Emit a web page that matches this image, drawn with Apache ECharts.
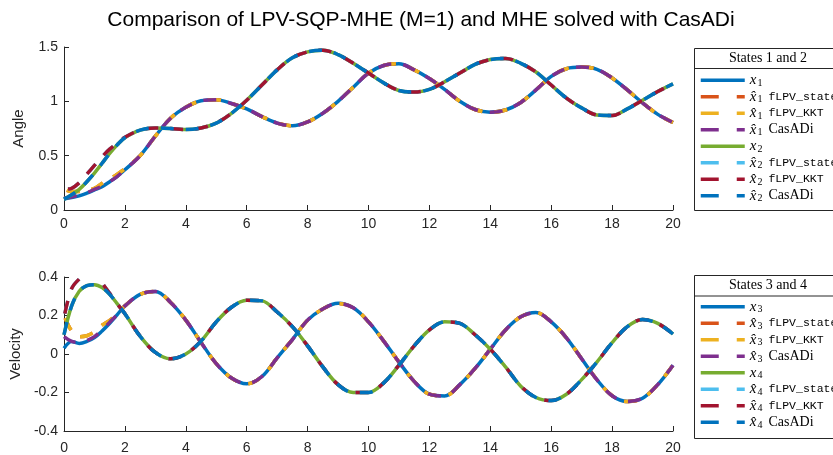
<!DOCTYPE html>
<html><head><meta charset="utf-8">
<script src="https://cdn.jsdelivr.net/npm/echarts@6/dist/echarts.min.js"></script>
<style>html,body{margin:0;padding:0;background:#fff}#c{width:833px;height:455px}</style>
</head><body><div id="c"></div><script>
// ---- data ----
const T = [0,0.25,0.5,0.75,1,1.25,1.5,1.75,2,2.5,3,3.5,4,4.5,5,5.5,6,6.5,7,7.5,8,8.5,9,9.5,10,10.5,11,11.5,12,12.5,13,13.5,14,14.5,15,15.5,16,16.5,17,17.5,18,18.5,19,19.5,20];
const xTicks = [0,2,4,6,8,10,12,14,16,18,20];
// Angle states
const x1 = [0.10,0.115,0.13,0.155,0.185,0.215,0.26,0.31,0.37,
  0.50,0.68,0.845,0.945,1.005,1.015,0.98,0.93,0.86,0.80,
  0.775,0.81,0.89,1.00,1.13,1.26,1.33,1.345,1.29,1.21,
  1.11,1.00,0.925,0.90,0.92,0.99,1.105,1.23,1.30,1.315,
  1.295,1.215,1.105,0.985,0.88,0.805];
const x2 = [0.10,0.14,0.19,0.26,0.34,0.43,0.52,0.60,0.665,
  0.735,0.755,0.75,0.74,0.755,0.80,0.89,1.01,1.15,1.29,
  1.40,1.455,1.47,1.43,1.35,1.26,1.17,1.10,1.085,1.11,
  1.18,1.26,1.34,1.385,1.395,1.35,1.27,1.15,1.03,0.94,
  0.875,0.87,0.93,1.01,1.09,1.16];
// estimates: early part differs, afterwards they lie on the true state
const xh1_kkt_head = [0.19,0.17,0.17,0.18,0.20,0.245,0.285,0.33,0.38];
const xh1_cas_head = [0.11,0.12,0.14,0.16,0.19,0.22,0.26,0.31,0.37];
const xh2_kkt_head = [0.19,0.20,0.25,0.33,0.41,0.49,0.56,0.615,0.67];
const xh2_cas_head = [0.10,0.14,0.19,0.26,0.34,0.43,0.52,0.60,0.665];
// Velocity states
const x3 = [0.03,0.065,0.055,0.065,0.085,0.12,0.16,0.205,0.25,
  0.31,0.325,0.268,0.176,0.06,-0.05,-0.125,-0.155,-0.117,-0.02,
  0.075,0.176,0.234,0.263,0.24,0.167,0.067,-0.042,-0.142,-0.209,
  -0.218,-0.159,-0.075,0.025,0.125,0.193,0.215,0.167,0.084,-0.025,
  -0.133,-0.217,-0.247,-0.23,-0.159,-0.058];
const x4 = [0.10,0.25,0.326,0.355,0.36,0.345,0.31,0.26,0.209,
  0.092,0.008,-0.025,0.0,0.067,0.167,0.243,0.279,0.276,0.218,
  0.142,0.042,-0.067,-0.159,-0.2,-0.2,-0.15,-0.058,0.042,0.125,
  0.167,0.159,0.10,0.025,-0.067,-0.167,-0.226,-0.242,-0.209,-0.133,
  -0.042,0.059,0.142,0.179,0.159,0.104];
const xh3_kkt_head = [0.20,0.12,0.09,0.095,0.115,0.15,0.175,0.21,0.25];
const xh3_cas_head = [0.09,0.065,0.06,0.07,0.09,0.125,0.165,0.205,0.25];
const xh4_kkt_head = [0.19,0.34,0.39,0.425,0.44,0.37,0.315,0.26,0.209];
const xh4_cas_head = [0.10,0.25,0.326,0.355,0.36,0.345,0.31,0.26,0.209];

const names1 = ['x1','x̂1 fLPV_state','x̂1 fLPV_KKT','x̂1 CasADi','x2','x̂2 fLPV_state','x̂2 fLPV_KKT','x̂2 CasADi'];
const names2 = ['x3','x̂3 fLPV_state','x̂3 fLPV_KKT','x̂3 CasADi','x4','x̂4 fLPV_state','x̂4 fLPV_KKT','x̂4 CasADi'];
const legendTitles = ['States 1 and 2','States 3 and 4'];
const yNames = ['Angle','Velocity'];
const titleText = 'Comparison of LPV-SQP-MHE (M=1) and MHE solved with CasADi';

// ---- build ----
const withTail = (head, truth) => head.concat(truth.slice(head.length));
const pairs = v => T.map((t,i)=>[t,v[i]]);
const colors = ['#0072BD','#D95319','#EDB120','#7E2F8E','#77AC30','#4DBEEE','#A2142F','#0072BD'];
const dashes = [null, -3, -3, 0, null, -4, -4, 0];

function groupData(a, b, ah_k, ah_c, bh_k, bh_c){
  const ak = withTail(ah_k, a), ac = withTail(ah_c, a);
  const bk = withTail(bh_k, b), bc = withTail(bh_c, b);
  return [a, ak, ak, ac, b, bk, bk, bc];
}
const g1 = groupData(x1, x2, xh1_kkt_head, xh1_cas_head, xh2_kkt_head, xh2_cas_head);
const g2 = groupData(x3, x4, xh3_kkt_head, xh3_cas_head, xh4_kkt_head, xh4_cas_head);

const LW = 3.5;
const series = [];
[[g1,names1],[g2,names2]].forEach(([g,names],gi)=>{
  g.forEach((v,i)=>{
    const dashed = dashes[i] !== null;
    series.push({
      name: names[i], type:'line', xAxisIndex: gi, yAxisIndex: gi,
      data: pairs(v), smooth: 0.35, symbol:'none', animation:false,
      lineStyle: {color: colors[i], width: LW, type: dashed ? [13,12] : 'solid', dashOffset: dashed ? dashes[i] : 0, cap:'butt'},
      itemStyle: {color: colors[i]}
    });
  });
});

function fmt(name){
  const m = name.match(/^x(\u0302?)(\d)(?: (.*))?$/);
  let s = '{m|' + (m[1] ? 'x\u0302' : 'x') + '}{s|' + m[2] + '}';
  if (m[3]) s += (m[3] === 'CasADi') ? '{rm|CasADi}' : '{tt|' + m[3] + '}';
  return s;
}
const rich = {
  m: {fontFamily:'Liberation Serif', fontStyle:'italic', fontSize:15, lineHeight:16, color:'#000'},
  s: {fontFamily:'Liberation Serif', fontSize:10, lineHeight:16, verticalAlign:'bottom', color:'#000', padding:[0,0,0,1]},
  tt: {fontFamily:'Liberation Mono', fontSize:11.5, lineHeight:16, color:'#000', padding:[0,0,0,6]},
  rm: {fontFamily:'Liberation Serif', fontSize:14, lineHeight:16, color:'#000', padding:[0,0,0,6]}
};
function legendData(names){
  return names.map((n,i)=>({name:n, itemStyle:{opacity:0, borderWidth:0},
    lineStyle: dashes[i]!==null ? {type:[18,18], width:3.5, dashOffset:0} : {type:'solid', width:3.5}}));
}
const legTops = [72.7, 299.3];
const legend = [names1, names2].map((names,gi)=>({
  orient:'vertical', left: 699, top: legTops[gi], padding:0, itemGap:1,
  itemWidth: 44, itemHeight: 10, data: legendData(names), formatter: fmt,
  selectedMode:false, z: 10,
  textStyle: {rich: rich, color:'#000'}
}));

const boxes = [{top:48.5, bottom:210.5, sep:68.5, ty:58.5},{top:275.5, bottom:438.5, sep:296, ty:285.5}];
const graphic = [];
boxes.forEach((b,gi)=>{
  graphic.push({type:'rect', z: 1, shape:{x:694.5, y:b.top, width:200, height:b.bottom-b.top}, style:{fill:'#fff', stroke:'#262626', lineWidth:1}});
  graphic.push({type:'line', z: 2, shape:{x1:694.5, y1:b.sep, x2:900, y2:b.sep}, style:{stroke:'#262626', lineWidth:1}});
  graphic.push({type:'text', z: 3, x: 768, y: b.ty, style:{text: legendTitles[gi], fontFamily:'Liberation Serif', fontSize:14, fill:'#000', align:'center', verticalAlign:'middle'}});
});

const axisCommon = {
  axisLine:{show:true, onZero:false, lineStyle:{color:'#262626', width:1}},
  axisTick:{show:true, inside:true, length:5, lineStyle:{color:'#262626', width:1}},
  axisLabel:{color:'#262626', fontFamily:'Liberation Sans', fontSize:14},
  splitLine:{show:false}
};
const xMargins = [7, 10];
const xAxis = [0,1].map(gi=>Object.assign({}, axisCommon, {
  type:'value', gridIndex: gi, min: xTicks[0], max: xTicks[xTicks.length-1], interval: 2,
  axisLabel: Object.assign({}, axisCommon.axisLabel, {margin: xMargins[gi]})
}));
const yAxis = [
  Object.assign({}, axisCommon, {type:'value', gridIndex:0, min:0, max:1.5, interval:0.5, name: yNames[0],
    nameLocation:'middle', nameGap: 38, nameTextStyle:{color:'#262626', fontFamily:'Liberation Sans', fontSize:15},
    axisLabel: Object.assign({}, axisCommon.axisLabel, {margin: 6})}),
  Object.assign({}, axisCommon, {type:'value', gridIndex:1, min:-0.4, max:0.4, interval:0.2, name: yNames[1],
    nameLocation:'middle', nameGap: 39, nameTextStyle:{color:'#262626', fontFamily:'Liberation Sans', fontSize:15},
    axisLabel: Object.assign({}, axisCommon.axisLabel, {margin: 6})})
];

const chart = echarts.init(document.getElementById('c'), null, {renderer:'canvas'});
chart.setOption({
  backgroundColor:'#fff',
  animation:false,
  title:{text: titleText, left: 416, textAlign:'center', top: 5,
    textStyle:{fontFamily:'Liberation Sans', fontSize:21, fontWeight:'normal', color:'#000'}},
  grid:[{left:64, top:47, width:609, height:163},{left:64, top:277, width:609, height:160}],
  xAxis, yAxis, legend, graphic, series
});
</script></body></html>
